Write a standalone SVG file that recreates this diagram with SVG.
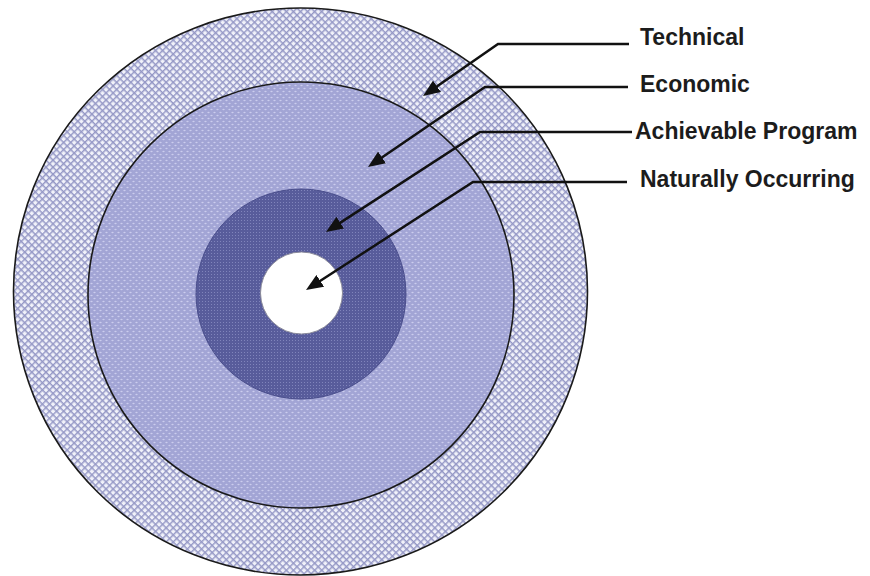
<svg xmlns="http://www.w3.org/2000/svg" width="870" height="576" viewBox="0 0 870 576">
<defs>
  <pattern id="hatch" width="5" height="5" patternUnits="userSpaceOnUse" patternTransform="rotate(45)">
    <rect width="5" height="5" fill="#f1f2fa"/>
    <path d="M0,0.7 H5 M0.7,0 V5" stroke="#9598c6" stroke-width="1.5"/>
  </pattern>
  <pattern id="dots" width="6" height="6" patternUnits="userSpaceOnUse">
    <rect width="6" height="6" fill="#a2a5d5"/>
    <ellipse cx="1.5" cy="1.5" rx="1.2" ry="0.8" fill="#cbcdee"/>
    <ellipse cx="4.5" cy="4.5" rx="1.2" ry="0.8" fill="#cbcdee"/>
  </pattern>
  <pattern id="fine" width="3" height="3" patternUnits="userSpaceOnUse">
    <rect width="3" height="3" fill="#585c9b"/>
    <rect x="1" y="1" width="1" height="1" fill="#8084bb"/>
  </pattern>
  <marker id="arrow" viewBox="0 0 17 14" markerWidth="17" markerHeight="14" refX="9" refY="7" orient="auto" markerUnits="userSpaceOnUse">
    <path d="M0,0 L17,7 L0,14 z" fill="#111"/>
  </marker>
  <style>
    .label { font-family: "Liberation Sans", Arial, sans-serif; font-weight: bold; font-size: 23px; fill: #1c1c1c; }
    .leader { fill: none; stroke: #111; stroke-width: 2.5; marker-end: url(#arrow); }
    .ring { stroke: #1a1a1a; stroke-width: 1.6; }
  </style>
</defs>
<rect width="870" height="576" fill="#ffffff"/>
<g id="technical">
  <ellipse class="ring" cx="300.5" cy="291.5" rx="287" ry="283.5" fill="url(#hatch)"/>
</g>
<g id="economic">
  <circle class="ring" cx="301" cy="295" r="213" fill="url(#dots)"/>
</g>
<g id="achievable">
  <circle cx="301" cy="294" r="105" fill="url(#fine)" stroke="#4a4e8c" stroke-width="1"/>
</g>
<g id="naturally">
  <circle cx="301.5" cy="293" r="41" fill="#ffffff" stroke="#8a8a9a" stroke-width="1"/>
</g>
<g id="connectors">
  <path class="leader" d="M629,44 H498 L429.6,91.5"/>
  <path class="leader" d="M628,87 H485 L374.6,162.5"/>
  <path class="leader" d="M632,132 H480 L332.7,227.6"/>
  <path class="leader" d="M627,182 H473 L312.7,285.7"/>
</g>
<g id="labels">
  <text class="label" x="640" y="45">Technical</text>
  <text class="label" x="640" y="92">Economic</text>
  <text class="label" x="635" y="139">Achievable Program</text>
  <text class="label" x="640" y="187">Naturally Occurring</text>
</g>
</svg>
